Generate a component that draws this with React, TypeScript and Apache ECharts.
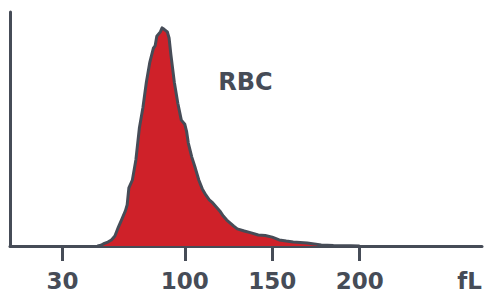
import React, { useEffect, useRef } from "react";
import * as echarts from "echarts";

const sizes = [50, 52, 54, 56, 58, 60, 62, 64, 66, 67, 68, 70, 72, 74, 76, 78, 80, 82, 83, 84, 86, 87, 88, 90, 91, 92, 94, 96, 98, 100, 101, 102, 104, 106, 108, 110, 112, 114, 116, 118, 120, 122, 124, 126, 128, 130, 134, 138, 142, 146, 150, 154, 158, 162, 166, 170, 174, 178, 185, 195, 200];
const counts = [0, 0.3, 1.1, 1.7, 2.6, 4.3, 8.1, 11.5, 15, 17.5, 24.8, 28.2, 36.8, 50.4, 59, 70, 78.6, 84.5, 85.5, 89.7, 91.5, 93.2, 92.7, 91.5, 88.9, 82, 70, 61, 53.8, 52, 49, 44, 38, 33.3, 28.2, 24.4, 21.8, 19.7, 18.4, 16.7, 15, 12.8, 11.1, 9.8, 8.5, 7.3, 6.4, 5.6, 4.7, 4.5, 3.8, 2.6, 2.1, 1.7, 1.5, 1.3, 0.9, 0.4, 0.2, 0.1, 0];
const tickValues = [30, 100, 150, 200];
const unitLabel = "fL";
const title = "RBC";

const DARK = "#464c57";
const RED = "#cf2129";
const FONT = "'DejaVu Sans', sans-serif";

export default function App() {
  const ref = useRef<HTMLDivElement>(null);
  useEffect(() => {
    if (!ref.current) return;
    const chart = echarts.init(ref.current, undefined, { renderer: "svg" });
    chart.setOption({
      animation: false,
      grid: { left: 10, right: 4, top: 12, bottom: 50 },
      xAxis: {
        type: "value",
        min: 0,
        max: 270,
        splitLine: { show: false },
        axisLine: { show: true, lineStyle: { color: DARK, width: 3 } },
        axisTick: {
          show: true,
          length: 15,
          customValues: tickValues,
          lineStyle: { color: DARK, width: 3 },
        },
        axisLabel: {
          customValues: tickValues,
          color: DARK,
          fontSize: 23,
          fontWeight: "bold",
          fontFamily: FONT,
          margin: 23,
        },
      },
      yAxis: {
        type: "value",
        min: 0,
        max: 100,
        splitLine: { show: false },
        axisLine: { show: true, lineStyle: { color: DARK, width: 3 } },
        axisTick: { show: false },
        axisLabel: { show: false },
      },
      series: [
        {
          type: "line",
          data: sizes.map((s, i) => [s, counts[i]]),
          symbol: "none",
          lineStyle: { color: DARK, width: 3, join: "round" },
          areaStyle: { color: RED, opacity: 1 },
          z: 1,
        },
      ],
      graphic: [
        {
          type: "text",
          x: 245.5,
          y: 81.5,
          style: {
            text: title,
            fill: DARK,
            font: `bold 24px ${FONT}`,
            textAlign: "center",
            textVerticalAlign: "middle",
          },
        },
        {
          type: "text",
          x: 482,
          y: 281,
          style: {
            text: unitLabel,
            fill: DARK,
            font: `bold 23px ${FONT}`,
            textAlign: "right",
            textVerticalAlign: "middle",
          },
        },
      ],
    });
    return () => chart.dispose();
  }, []);
  return <div ref={ref} style={{ width: 486, height: 296, position: "absolute", left: 0, top: 0 }} />;
}
